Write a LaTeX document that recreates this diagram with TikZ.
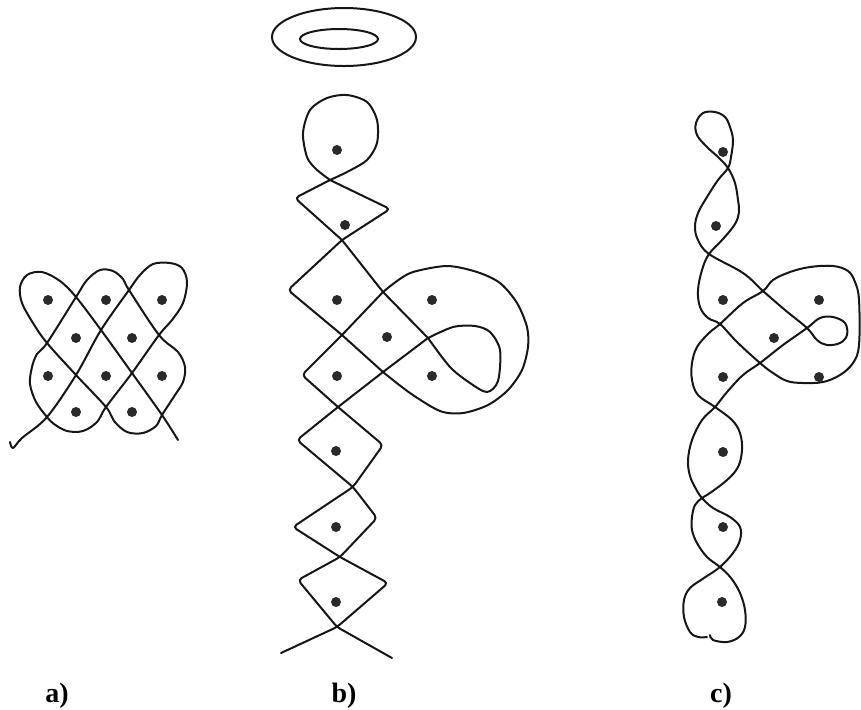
\documentclass[tikz,border=0pt]{standalone}
\usepackage{fontspec}
\setmainfont{Liberation Serif}
\definecolor{kolamInk}{HTML}{161616}
\definecolor{kolamDot}{HTML}{2A2A2A}

\begin{document}
\begin{tikzpicture}[
  x=0.5pt, y=-0.5pt,
  strand/.style={draw=kolamInk, line width=1pt, line cap=round, line join=round},
  ring/.style={draw=kolamInk, line width=1pt},
  kdot/.style={circle, fill=kolamDot, inner sep=0pt, minimum size=5pt},
  lbl/.style={font=\fontsize{14}{16}\selectfont\bfseries, anchor=base, inner sep=0pt}
]
\useasboundingbox (0,0) rectangle (861,709);

% a) dot grid
\foreach \x/\y [count=\k] in {48/300, 106/300, 162/300, 76/338, 132/338,
                              48/376, 106/376, 162/376, 76/412, 132/412}
  \node[kdot] (a\k) at (\x,\y) {};
\draw[strand] plot[smooth, tension=0.55] coordinates {
  (10,442) (13,448) (22,438) (47,417) (76,375) (101,330) (129,290) (140,275)
  (153,264) (170,263) (182,268) (187,282) (183,303) (172,320) (159,335)
  (132,373) (106,407) (97,422) (83,431) (67,431) (54,424) (47,417) (36,402)
  (30,384) (32,367) (37,354) (47,343) (76,297) (87,280) (100,270) (113,271)
  (123,279) (129,290) (159,335) (178,352) (185,367) (183,382) (175,395)
  (162,415) (156,426) (143,433) (127,432) (114,421) (106,407) (76,375)
  (47,343) (33,323) (22,303) (20,287) (27,275) (42,272) (60,281) (76,297)
  (101,330) (132,373) (162,415) (178,440)};
\node[lbl] (la) at (57,702) {a)};

% b) chain with halo
\draw[ring] (344,37) ellipse [x radius=36pt, y radius=14.5pt];
\draw[ring] (339,39) ellipse [x radius=19.5pt, y radius=5pt];
\foreach \x/\y [count=\k] in {337/150, 345/225, 337/300, 432/300, 387/337,
                              337/376, 432/376, 336/451, 336/527, 336/602}
  \node[kdot] (b\k) at (\x,\y) {};
\draw[strand, rounded corners=2pt] (281,653) -- (337,627) -- (388,583) -- (340,557)
  -- (293,527) -- (353,487) -- (383,445) -- (338,407) -- (302,375) -- (342,335) -- (383,292);
\draw[strand] plot[smooth] coordinates {(383,292) (397,281) (413,272) (447,266)
  (477,272) (500,283) (517,303) (527,327) (528,347) (522,370) (508,390) (488,405)
  (463,413) (440,411) (410,393) (383,372)};
\draw[strand, rounded corners=2pt] (383,372) -- (342,335) -- (288,290) -- (342,240)
  -- (390,209) -- (330,180);
\draw[strand] plot[smooth] coordinates {(330,180) (316,169) (307,157) (303,133)
  (310,110) (327,98) (347,95) (367,102) (377,120) (377,143) (367,160) (347,172) (330,180)};
\draw[strand, rounded corners=2pt] (330,180) -- (295,198) -- (342,240) -- (383,292) -- (428,338);
\draw[strand] plot[smooth] coordinates {(428,338) (450,367) (470,383) (487,392)
  (498,381) (500,350) (490,332) (475,326) (453,327) (428,338)};
\draw[strand, rounded corners=2pt] (428,338) -- (383,372) -- (338,407) -- (297,440)
  -- (353,487) -- (377,518) -- (340,557) -- (298,580) -- (337,627) -- (392,658);
\node[lbl] (lb) at (344,702) {b)};

% c) twisted chain
\foreach \x/\y [count=\k] in {723/152, 716/226, 723/300, 819/300, 774/338,
                              723/377, 819/377, 723/452, 723/527, 722/602}
  \node[kdot] (c\k) at (\x,\y) {};
\draw[strand] plot[smooth, tension=0.6] coordinates {
  (707,637) (698,637) (690,632) (684,617) (684,600) (690,588) (704,578) (720,567)
  (733,553) (740,540) (740,527) (730,517) (713,508) (702,498) (696,489)
  (690,476) (688,460) (692,440) (702,420) (715,407) (727,392) (743,375)
  (760,363) (783,345) (807,328) (820,318) (833,317) (845,323) (847,335)
  (840,343) (827,345) (817,340) (807,328) (785,310) (763,291) (743,273)
  (709,254) (698,240) (695,227) (698,213) (707,197) (718,180) (728,168)
  (731,157) (733,140) (730,127) (725,117) (715,112) (703,113) (696,123)
  (697,135) (707,147) (718,157) (728,168) (735,183) (738,200) (739,212)
  (735,224) (723,239) (709,254) (702,270) (698,290) (700,307) (708,318)
  (720,324) (737,342) (760,363) (773,373) (787,381) (803,383) (823,382)
  (840,375) (853,363) (859,345) (859,300) (855,282) (848,271) (833,266)
  (810,267) (790,272) (773,280) (763,291) (743,303) (720,324) (709,333)
  (697,347) (692,363) (692,380) (698,395) (715,407) (732,420) (740,433)
  (742,450) (738,467) (727,480) (710,493) (702,498) (695,505) (692,517)
  (692,530) (697,543) (707,557) (720,567) (731,578) (740,593) (745,610)
  (745,627) (739,637) (727,642) (713,640) (710,635)};
\node[lbl] (lc) at (721,702) {c)};
\end{tikzpicture}
\end{document}
